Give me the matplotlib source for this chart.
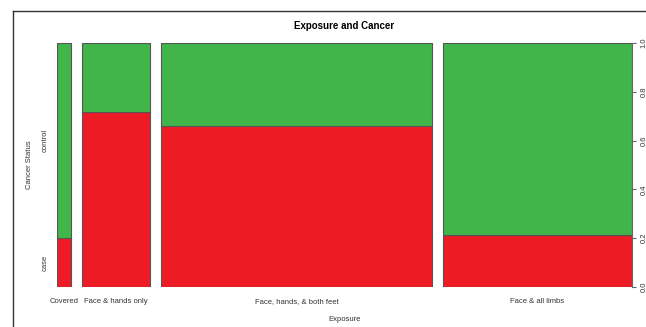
import matplotlib.pyplot as plt
import numpy as np
from matplotlib.lines import Line2D

plt.rcParams["font.family"] = ["Liberation Sans", "DejaVu Sans"]

# spineplot data: column widths (share of subjects) and case proportion per exposure
exposure = ["Covered", "Face & hands only", "Face, hands, & both feet", "Face & all limbs"]
widths = [0.0262, 0.1258, 0.4995, 0.3485]
case_frac = [0.20, 0.718, 0.66, 0.213]
status = ["case", "control"]

red = "#ED1C24"
green = "#41B54A"
off = 0.02

W, H = 646, 327
fig = plt.figure(figsize=(W / 100, H / 100), dpi=100)
ax = fig.add_axes([56.7 / W, 1 - 287 / H, (632 - 56.7) / W, (287 - 43) / H])

lefts = np.concatenate([[0], np.cumsum(np.array(widths) + off)[:-1]])
ax.bar(lefts, case_frac, width=widths, align="edge", color=red,
       edgecolor="#555555", linewidth=0.8)
ax.bar(lefts, 1 - np.array(case_frac), bottom=case_frac, width=widths, align="edge",
       color=green, edgecolor="#555555", linewidth=0.8)

ax.set_xlim(0, 1 + off * (len(widths) - 1))
ax.set_ylim(0, 1)

for s in ["top", "left", "bottom"]:
    ax.spines[s].set_visible(False)
ax.spines["right"].set_color("#666666")
ax.spines["right"].set_linewidth(0.8)

ax.set_xticks(lefts + np.array(widths) / 2)
ax.set_xticklabels(exposure, fontsize=5.5, color="#333333")
ax.tick_params(axis="x", length=0, pad=8)

ax.set_yticks([case_frac[0] / 2, (1 + case_frac[0]) / 2])
ax.set_yticklabels(status, rotation=90, va="center", fontsize=5.5, color="#333333")
ax.tick_params(axis="y", length=0, pad=6)

ax2 = ax.twinx()
ax2.set_ylim(0, 1)
for s in ["top", "left", "bottom", "right"]:
    ax2.spines[s].set_visible(False)
ax2.set_yticks(np.arange(0, 1.01, 0.2))
ax2.set_yticklabels(["0.0", "0.2", "0.4", "0.6", "0.8", "1.0"], rotation=90,
                    va="center", fontsize=5.5, color="#333333")
ax2.tick_params(axis="y", length=3, width=0.8, color="#666666", pad=3)

ax.set_title("Exposure and Cancer", fontsize=7, fontweight="bold", pad=10)
ax.set_xlabel("Exposure", fontsize=5.5, color="#333333", labelpad=8)
ax.set_ylabel("Cancer Status", fontsize=5.5, color="#333333", labelpad=6)

# outer frame (cropped box)
fig.add_artist(Line2D([13 / W, 1], [1 - 11 / H] * 2, color="#333333", lw=1))
fig.add_artist(Line2D([13 / W] * 2, [0, 1 - 11 / H], color="#333333", lw=1))

fig.savefig("out.png", dpi=100)
